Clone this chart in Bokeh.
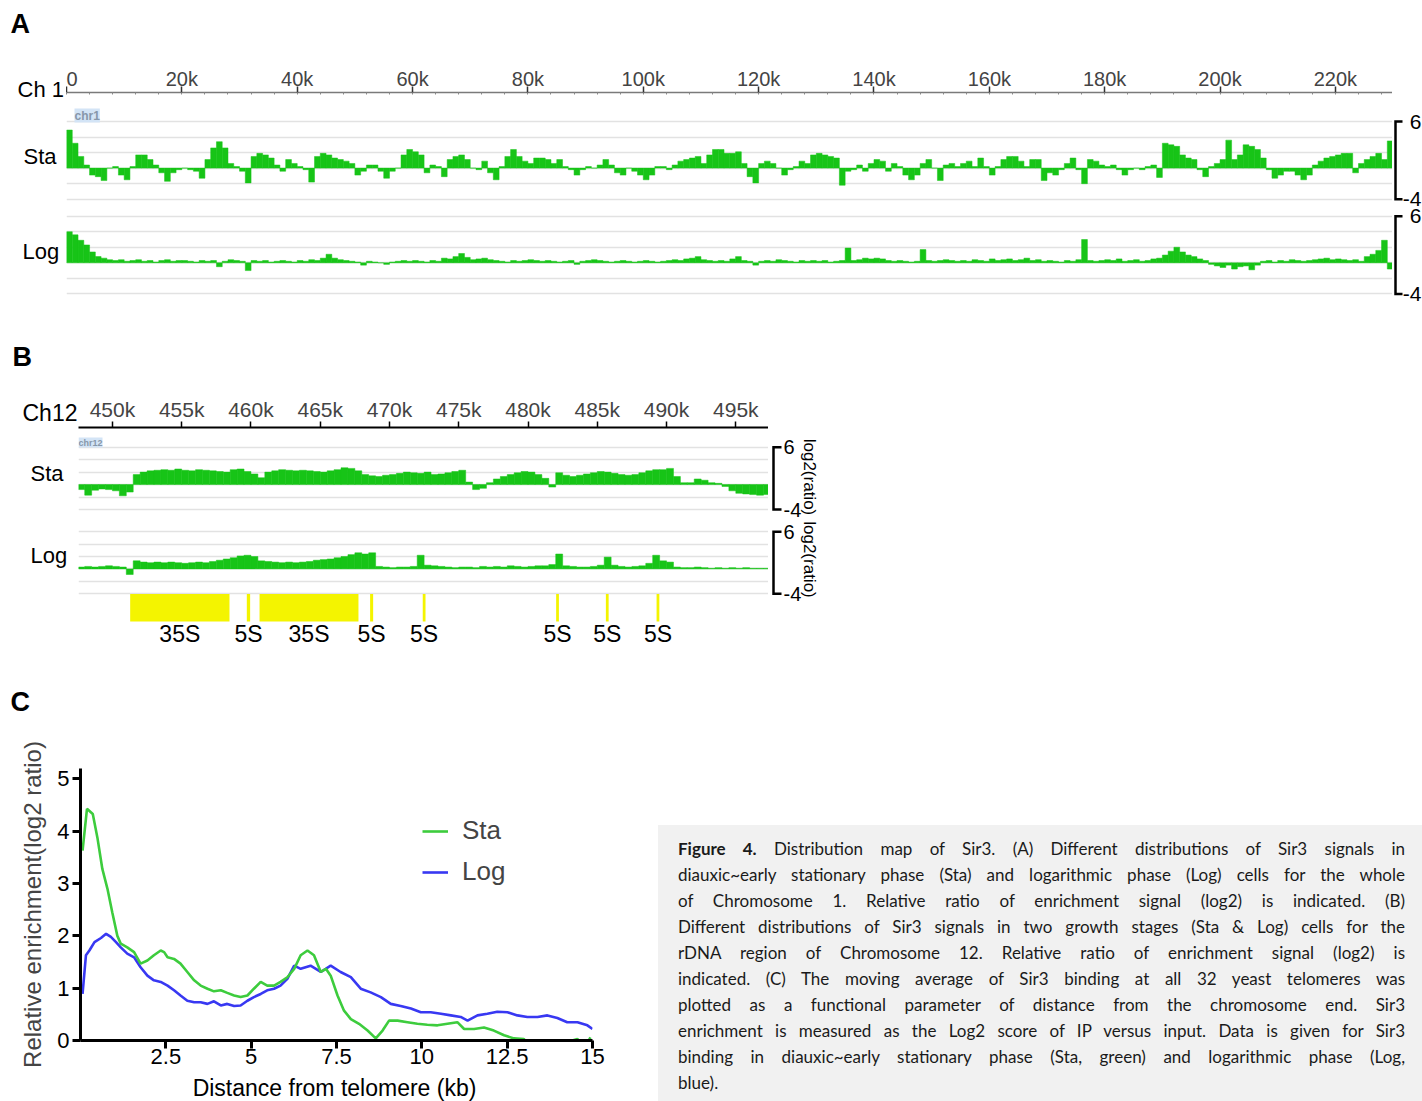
import math
import numpy as np
from bokeh.plotting import figure
from bokeh.models import (Range1d, LinearAxis, FixedTicker, Grid, Label, Legend, LegendItem,
                          Div, CustomJSTickFormatter)
from bokeh.layouts import column, row
from bokeh.embed import file_html
from bokeh.resources import INLINE
from bokeh.core.properties import value

# ---------------------------------------------------------------- data
# Panel A: chromosome 1, log2(ratio) in 1 kb bins starting at 0 kb
chr1_bin_kb = 1.0
chr1_sta = [
    4.9, 3.2, 1.5, 0.4, -0.9, -1.1, -1.6, 0.0, 0.2, -0.9,
    -1.5, 0.2, 1.7, 1.7, 1.1, 0.4, -0.6, -1.7, -0.6, -0.2,
    0.0, -0.2, -0.4, -1.3, 1.1, 2.6, 3.4, 2.6, 0.6, 0.2,
    -0.4, -1.9, 1.5, 1.9, 1.7, 1.3, 0.4, -0.4, 1.1, 0.6,
    0.2, -0.2, -1.8, 1.5, 1.9, 1.7, 1.3, 1.1, 0.9, 0.6,
    -0.9, -0.4, 0.4, 0.4, -0.4, -1.3, -0.4, 0.0, 1.7, 2.4,
    2.1, 1.7, -0.6, 0.4, 0.2, -1.1, 1.1, 1.5, 1.7, 1.1,
    0.0, -0.2, 0.9, -0.6, -1.5, 0.2, 1.5, 2.4, 1.5, 0.9,
    0.6, 1.3, 1.3, 1.1, 0.6, 1.1, 0.2, -0.2, -0.9, -0.2,
    0.2, 0.0, 0.4, 1.1, 0.4, -0.6, -0.9, 0.0, -0.4, -0.9,
    -1.5, -0.9, 0.2, 0.2, -0.2, 0.4, 0.9, 1.1, 1.3, 1.5,
    0.6, 1.7, 2.4, 2.4, 1.9, 1.9, 2.1, 0.6, -1.1, -1.9,
    0.6, 0.9, 0.6, 0.0, -0.9, -0.2, 0.2, 0.9, 0.6, 1.7,
    1.9, 1.7, 1.5, 1.3, -2.2, -0.4, -0.2, 0.4, -0.4, 0.6,
    1.1, 0.9, -0.4, 0.6, 0.2, -0.9, -1.5, -0.9, 0.6, 1.1,
    0.0, -1.6, 0.4, 0.6, 0.2, 0.6, 0.9, 0.2, 1.3, 0.2,
    -0.9, 0.2, 1.1, 1.5, 1.5, 0.9, 0.2, 1.1, 1.1, -1.6,
    -0.6, -0.9, -0.2, 0.6, 1.3, -0.2, -2.0, 1.1, 0.9, 0.4,
    0.2, 0.4, -0.2, -0.9, -0.2, 0.0, -0.2, 0.2, 0.4, -1.2,
    3.2, 3.0, 2.8, 1.7, 1.3, 1.1, -0.2, -1.1, 0.2, 0.6,
    1.1, 3.6, 1.1, 1.7, 3.0, 2.8, 2.4, 1.3, -0.2, -1.3,
    -0.9, -0.4, -0.4, -0.9, -1.5, -0.9, 0.4, 0.9, 1.3, 1.5,
    1.7, 1.9, 1.9, -0.6, 0.6, 1.1, 1.5, 1.9, 1.1, 3.5,
]
chr1_log = [
    4.0, 3.6, 2.9, 2.3, 1.4, 0.8, 0.6, 0.4, 0.3, 0.4,
    0.2, 0.3, 0.4, 0.2, 0.3, 0.1, 0.3, 0.4, 0.2, 0.3,
    0.3, 0.2, 0.1, 0.3, 0.2, 0.3, -0.5, 0.2, 0.4, 0.3,
    0.2, -1.0, 0.3, 0.2, 0.3, 0.1, 0.2, 0.3, 0.2, 0.1,
    0.3, 0.2, 0.4, 0.3, 0.6, 1.1, 0.6, 0.4, 0.3, 0.2,
    0.1, -0.3, 0.2, 0.1, 0.0, -0.2, 0.1, 0.2, 0.3, 0.2,
    0.3, 0.2, 0.1, 0.3, 0.2, 0.6, 0.5, 0.8, 1.2, 0.7,
    0.4, 0.5, 0.6, 0.4, 0.3, 0.2, 0.1, 0.3, 0.2, 0.3,
    0.4, 0.3, 0.2, 0.3, 0.2, 0.1, 0.2, 0.3, -0.2, 0.2,
    0.3, 0.4, 0.3, 0.2, 0.1, 0.2, 0.3, 0.2, 0.1, 0.2,
    0.3, 0.2, 0.1, 0.2, 0.3, 0.4, 0.3, 0.5, 0.6, 0.8,
    0.4, 0.3, 0.2, 0.3, 0.2, 0.5, 0.8, 0.3, 0.2, -0.3,
    0.2, 0.3, 0.2, 0.4, 0.3, 0.2, 0.1, 0.3, 0.2, 0.3,
    0.2, 0.3, 0.1, 0.2, 0.3, 1.9, 0.3, 0.4, 0.6, 0.5,
    0.6, 0.5, 0.3, 0.2, 0.3, 0.2, 0.1, 0.2, 1.7, 0.3,
    0.2, 0.3, 0.4, 0.3, 0.2, 0.3, 0.2, 0.4, 0.3, 0.2,
    0.5, 0.3, 0.4, 0.5, 0.3, 0.4, 0.6, 0.3, 0.4, 0.2,
    0.3, 0.2, 0.1, 0.3, 0.2, 0.4, 3.0, 0.3, 0.2, 0.3,
    0.4, 0.3, 0.5, 0.2, 0.3, 0.4, 0.2, 0.3, 0.5, 0.6,
    1.0, 1.5, 2.0, 1.4, 1.0, 0.8, 0.5, 0.3, -0.2, -0.4,
    -0.6, -0.3, -0.8, -0.5, -0.4, -0.9, -0.3, 0.2, 0.3, 0.1,
    0.3, 0.2, 0.4, 0.3, 0.2, 0.3, 0.4, 0.5, 0.6, 0.4,
    0.5, 0.4, 0.3, 0.4, 0.2, 0.8, 1.1, 1.6, 2.9, -0.8,
]
chr1_view_kb = [0, 229.9]
chr1_ticks_kb = [0, 20, 40, 60, 80, 100, 120, 140, 160, 180, 200, 220]
chr1_minor_kb = list(range(0, 231, 4))

# Panel B: chromosome 12 rDNA region, 0.5 kb bins starting at 447.5 kb
chr12_start_kb = 447.5
chr12_bin_kb = 0.5
chr12_sta = [
    -0.8, -1.7, -0.9, -0.7, -0.8, -1.0, -1.8, -1.2, 1.6, 2.0,
    2.2, 2.3, 2.4, 2.3, 2.5, 2.3, 2.2, 2.4, 2.3, 2.2,
    2.1, 2.0, 2.4, 2.5, 2.1, 1.7, 1.1, 2.0, 2.2, 2.4,
    2.3, 2.2, 2.3, 2.2, 2.1, 2.0, 2.2, 2.4, 2.7, 2.6,
    2.2, 1.6, 1.4, 1.3, 1.5, 1.6, 1.8, 2.0, 1.9, 1.8,
    2.0, 1.6, 1.7, 1.9, 2.1, 2.3, 0.4, -0.8, -0.6, 0.3,
    0.9, 1.3, 1.6, 1.9, 2.1, 2.0, 1.6, 1.0, -0.4, 1.9,
    1.5, 1.3, 1.5, 1.7, 1.9, 2.1, 2.0, 1.8, 1.6, 1.5,
    1.6, 1.9, 2.2, 2.4, 2.4, 2.6, 1.3, 0.3, 0.3, 0.9,
    0.7, 0.3, 0.2, -0.3, -1.0, -1.4, -1.5, -1.6, -1.7, -1.6,
]
chr12_log = [
    0.3, 0.4, 0.3, 0.4, 0.5, 0.4, 0.3, -0.9, 1.3, 1.1,
    1.0, 1.1, 1.0, 1.1, 1.0, 0.9, 1.0, 1.1, 1.0, 1.2,
    1.4, 1.6, 1.8, 2.1, 2.2, 2.0, 1.3, 1.2, 1.1, 1.0,
    1.1, 1.0, 1.1, 1.2, 1.4, 1.5, 1.6, 1.8, 2.0, 2.3,
    2.6, 2.4, 2.6, 0.4, 0.3, 0.2, 0.3, 0.3, 0.4, 2.2,
    0.6, 0.5, 0.4, 0.3, 0.2, 0.3, 0.3, 0.2, 0.4, 0.3,
    0.4, 0.3, 0.5, 0.4, 0.3, 0.4, 0.5, 0.5, 0.7, 2.4,
    0.5, 0.4, 0.3, 0.3, 0.4, 0.6, 1.9, 0.6, 0.4, 0.3,
    0.4, 0.5, 0.9, 2.2, 1.3, 1.1, 0.3, 0.2, 0.2, 0.3,
    0.2, 0.1, 0.2, 0.1, 0.2, 0.1, 0.2, 0.1, 0.1, 0.1,
]
chr12_view_kb = [447.55, 497.36]
chr12_ticks_kb = [450, 455, 460, 465, 470, 475, 480, 485, 490, 495]
rdna_names = ["35S", "5S", "35S", "5S", "5S", "5S", "5S", "5S"]
rdna_start_kb = [451.28, 459.70, 460.62, 468.60, 472.40, 482.03, 485.62, 489.28]
rdna_end_kb = [458.45, 459.94, 467.76, 468.82, 472.60, 482.23, 485.82, 489.48]

# Panel C: moving average near telomeres
tel_sta_kb = [0.06, 0.19, 0.36, 0.5, 0.64, 0.79, 0.93, 1.08, 1.18, 1.37, 1.57, 1.76, 1.96,
              2.15, 2.35, 2.45, 2.55, 2.74, 2.93, 3.13, 3.33, 3.52, 3.72, 3.91, 4.11, 4.3,
              4.5, 4.69, 4.89, 5.08, 5.28, 5.47, 5.67, 5.86, 6.06, 6.26, 6.45, 6.65, 6.84,
              7.04, 7.19, 7.33, 7.53, 7.72, 7.92, 8.16, 8.41, 8.65, 8.85, 9.04, 9.29, 9.58,
              9.87, 10.16, 10.46, 10.75, 11.04, 11.24, 11.53, 11.82, 12.11, 12.41, 12.7,
              12.99, 13.14, 13.39, 13.68, 13.97, 14.26, 14.56, 14.75, 14.94]
tel_sta = [3.63, 4.43, 4.33, 3.86, 3.28, 2.9, 2.45, 2.0, 1.85, 1.78, 1.69, 1.47, 1.53,
           1.63, 1.72, 1.69, 1.59, 1.56, 1.47, 1.31, 1.15, 1.05, 0.99, 0.94, 0.96, 0.91,
           0.86, 0.83, 0.86, 0.99, 1.12, 1.05, 1.05, 1.12, 1.21, 1.37, 1.63, 1.72, 1.63,
           1.31, 1.37, 1.24, 0.86, 0.57, 0.41, 0.32, 0.19, 0.04, 0.19, 0.38, 0.38, 0.35,
           0.32, 0.30, 0.29, 0.32, 0.35, 0.22, 0.22, 0.25, 0.19, 0.10, 0.04,
           0.03, -0.1, 0.0, -0.03, -0.06, -0.03, 0.03, -0.16, 0.06]
tel_log_kb = [0.06, 0.16, 0.26, 0.41, 0.60, 0.75, 0.89, 1.04, 1.18, 1.37, 1.57, 1.76, 1.96,
              2.15, 2.35, 2.55, 2.74, 2.93, 3.13, 3.33, 3.52, 3.72, 3.91, 4.11, 4.3, 4.5,
              4.69, 4.89, 5.08, 5.28, 5.47, 5.67, 5.86, 6.06, 6.26, 6.45, 6.74, 7.04, 7.33,
              7.62, 7.92, 8.21, 8.5, 8.8, 9.09, 9.38, 9.68, 9.97, 10.26, 10.56, 10.85, 11.14,
              11.34, 11.63, 11.92, 12.21, 12.51, 12.8, 13.09, 13.39, 13.68, 13.97, 14.26,
              14.56, 14.85, 15.0]
tel_log = [0.89, 1.63, 1.72, 1.88, 1.96, 2.04, 1.98, 1.88, 1.78, 1.66, 1.59, 1.40, 1.24,
           1.15, 1.12, 1.05, 0.96, 0.86, 0.76, 0.73, 0.73, 0.70, 0.75, 0.67, 0.70, 0.66,
           0.67, 0.76, 0.83, 0.89, 0.96, 0.99, 1.05, 1.18, 1.43, 1.37, 1.43, 1.31, 1.43,
           1.31, 1.21, 0.99, 0.92, 0.83, 0.70, 0.66, 0.61, 0.54, 0.54, 0.51, 0.48, 0.45,
           0.38, 0.48, 0.51, 0.55, 0.54, 0.48, 0.45, 0.45, 0.48, 0.43, 0.35,
           0.35, 0.29, 0.22]
tel_x_ticks = [2.5, 5, 7.5, 10, 12.5, 15]
tel_y_ticks = [0, 1, 2, 3, 4, 5]

track_grid = [-4, -2, 0, 2, 4, 6]
track_scale = [-4, 6]

caption_lines = [
    "<b>Figure 4.</b> Distribution map of Sir3. (A) Different distributions of Sir3 signals in",
    "diauxic~early stationary phase (Sta) and logarithmic phase (Log) cells for the whole",
    "of Chromosome 1. Relative ratio of enrichment signal (log2) is indicated. (B)",
    "Different distributions of Sir3 signals in two growth stages (Sta &amp; Log) cells for the",
    "rDNA region of Chromosome 12. Relative ratio of enrichment signal (log2) is",
    "indicated. (C) The moving average of Sir3 binding at all 32 yeast telomeres was",
    "plotted as a functional parameter of distance from the chromosome end. Sir3",
    "enrichment is measured as the Log2 score of IP versus input. Data is given for Sir3",
    "binding in diauxic~early stationary phase (Sta, green) and logarithmic phase (Log,",
    "blue).",
]

# ---------------------------------------------------------------- styles
GREEN = "#17c417"
C_GREEN = "#3dcc3d"
C_BLUE = "#3838f2"
YELLOW = "#f4f400"
GRID = "#e2e2e2"
SANS = "Liberation Sans"
kfmt = CustomJSTickFormatter(code="return tick == 0 ? '0' : tick + 'k';")


def base_fig(w, h, xr, yr, top=0, bottom=0, left=0, right=0):
    p = figure(width=w, height=h, x_range=xr, y_range=yr, output_backend="svg",
               toolbar_location=None, x_axis_location=None, y_axis_location=None,
               title=None, min_border_left=left, min_border_right=right,
               min_border_top=top, min_border_bottom=bottom, frame_align=False)
    p.outline_line_color = None
    p.xgrid.visible = False
    p.ygrid.visible = False
    return p


def label_fig(w, h):
    # pixel-space canvas for texts that sit outside the plotting frames
    return base_fig(w, h, Range1d(0, w), Range1d(h, 0))


def put_text(p, xs, ys, texts, size, font=SANS, align="left", baseline="middle",
             style="normal", angle=0.0, color="black", **kw):
    p.text(x=xs, y=ys, text=texts, text_font=value(font), text_font_size=value(f"{size}px"),
           text_align=align, text_baseline=baseline, text_font_style=style, angle=angle,
           text_color=color, **kw)


def band_range(frame_top, frame_h, anchor_px, ppu, anchor_val=6.0):
    # frame_top and anchor_px are both page pixels
    top = anchor_val + (anchor_px - frame_top) / ppu
    return Range1d(top - frame_h / ppu, top)


def add_grid(p, rn):
    p.add_layout(Grid(dimension=1, ticker=FixedTicker(ticks=track_grid), y_range_name=rn,
                      grid_line_color=GRID, grid_line_width=1.5))


def bars(p, start, step, vals, rn):
    xs = start + step * (np.arange(len(vals)) + 0.5)
    p.vbar(x=xs, width=step, top=vals, bottom=0, fill_color=GREEN,
           line_color=GREEN, line_width=0.5, y_range_name=rn)


def bracket(p, rn, bx, tick, tx, size, align):
    lo, hi = track_scale
    p.line(x=[bx + tick, bx, bx, bx + tick], y=[hi, hi, lo, lo], line_width=2.5,
           line_color="black", line_join="miter", y_range_name=rn)
    put_text(p, [tx, tx], [hi, lo], [str(hi), str(lo)], size, align=align, y_range_name=rn)


# ---------------------------------------------------------------- panel A
A_Y0, A_H, A_TOP = 0, 304, 92
a_frame_top = A_Y0 + A_TOP
a_rngs = {"sta": band_range(a_frame_top, A_H - A_TOP, 121.0, 7.77),
          "log": band_range(a_frame_top, A_H - A_TOP, 215.7, 7.77)}

la = label_fig(66, A_H)
put_text(la, [10], [23], ["A"], 27, style="bold")
put_text(la, [17], [89], ["Ch 1"], 22)
put_text(la, [23], [156], ["Sta"], 22)
put_text(la, [22], [251], ["Log"], 22)

ta = base_fig(1326, A_H, Range1d(*chr1_view_kb), a_rngs["sta"], top=A_TOP)
ta.extra_y_ranges = {"log": a_rngs["log"]}
add_grid(ta, "default")
add_grid(ta, "log")
axA = LinearAxis(ticker=FixedTicker(ticks=chr1_ticks_kb, minor_ticks=chr1_minor_kb),
                 formatter=kfmt, axis_line_color="#7a7a7a", axis_line_width=1.5,
                 major_tick_in=0, major_tick_out=6, major_tick_line_color="#333333",
                 major_tick_line_width=1.5, minor_tick_in=2, minor_tick_out=0,
                 minor_tick_line_color="#888888",
                 major_label_text_font=SANS, major_label_text_font_size="20px",
                 major_label_standoff=-3)
ta.add_layout(axA, "above")
bars(ta, 0, chr1_bin_kb, chr1_sta, "default")
bars(ta, 0, chr1_bin_kb, chr1_log, "log")
ta.add_layout(Label(x=0, y=6.77, x_offset=8, text="chr1", text_font=SANS,
                    text_font_size="12px", text_font_style="bold", text_color="#8797aa",
                    text_baseline="middle", background_fill_color="#d3e4f6"))

ra = base_fig(30, A_H, Range1d(0, 30), a_rngs["sta"], top=A_TOP)
ra.extra_y_ranges = {"log": a_rngs["log"]}
bracket(ra, "default", 3, 7, 29, 21, "right")
bracket(ra, "log", 3, 7, 29, 21, "right")

# ---------------------------------------------------------------- panel B
B_Y0, B_H, B_TOP = 304, 356, 123
b_frame_top = B_Y0 + B_TOP
b_rngs = {"sta": band_range(b_frame_top, B_H - B_TOP, 446.7, 6.23),
          "log": band_range(b_frame_top, B_H - B_TOP, 531.2, 6.2),
          "genes": band_range(b_frame_top, B_H - B_TOP, 621.0, 27.5, anchor_val=0.0)}

lb = label_fig(78, B_H)
put_text(lb, [12], [52], ["B"], 27, style="bold")
put_text(lb, [22], [108], ["Ch12"], 23)
put_text(lb, [30], [169], ["Sta"], 22)
put_text(lb, [30], [251], ["Log"], 22)

tb = base_fig(690, B_H, Range1d(*chr12_view_kb), b_rngs["sta"], top=B_TOP)
tb.extra_y_ranges = {"log": b_rngs["log"], "genes": b_rngs["genes"]}
add_grid(tb, "default")
add_grid(tb, "log")
axB = LinearAxis(ticker=FixedTicker(ticks=chr12_ticks_kb), formatter=kfmt,
                 axis_line_color="black", axis_line_width=2,
                 major_tick_in=0, major_tick_out=6, major_tick_line_width=1.5,
                 minor_tick_in=0, minor_tick_out=0,
                 major_label_text_font=SANS, major_label_text_font_size="21px",
                 major_label_standoff=1)
tb.add_layout(axB, "above")
bars(tb, chr12_start_kb, chr12_bin_kb, chr12_sta, "default")
bars(tb, chr12_start_kb, chr12_bin_kb, chr12_log, "log")
tb.quad(left=rdna_start_kb, right=rdna_end_kb, bottom=0, top=1, y_range_name="genes",
        fill_color=YELLOW, line_color=None)
gene_mid = [(s + e) / 2 for s, e in zip(rdna_start_kb, rdna_end_kb)]
put_text(tb, gene_mid, [-0.44] * len(gene_mid), rdna_names, 23, align="center",
         y_range_name="genes")
tb.add_layout(Label(x=chr12_view_kb[0], y=6.75, text="chr12", text_font=SANS,
                    text_font_size="9px", text_font_style="bold", text_color="#8797aa",
                    text_baseline="middle", background_fill_color="#d3e4f6"))

rb = base_fig(62, B_H, Range1d(0, 62), b_rngs["sta"], top=B_TOP)
rb.extra_y_ranges = {"log": b_rngs["log"]}
bracket(rb, "default", 5, 8, 15, 20, "left")
bracket(rb, "log", 5, 8, 15, 20, "left")
put_text(rb, [41], [1.22], ["log2(ratio)"], 17, align="center", angle=-math.pi / 2)
put_text(rb, [41], [1.52], ["log2(ratio)"], 17, align="center", angle=-math.pi / 2,
         y_range_name="log")

# ---------------------------------------------------------------- panel C
lct = label_fig(658, 75)
put_text(lct, [10], [41], ["C"], 27, style="bold")

pc = figure(width=658, height=339, x_range=Range1d(0, 15), y_range=Range1d(0, 5.2),
            output_backend="svg", toolbar_location=None, title=None, frame_align=False,
            min_border_left=80, min_border_right=66, min_border_top=33, min_border_bottom=34)
pc.outline_line_color = None
pc.grid.visible = False
for ax in (pc.xaxis[0], pc.yaxis[0]):
    ax.axis_line_width = 3
    ax.axis_line_color = "black"
    ax.major_tick_line_width = 3
    ax.major_tick_in = 0
    ax.major_tick_out = 8
    ax.minor_tick_out = 0
    ax.minor_tick_in = 0
    ax.major_label_text_font = SANS
    ax.major_label_text_font_size = "22px"
    ax.major_label_text_color = "black"
    ax.major_label_standoff = 0
pc.yaxis[0].major_label_standoff = 3
pc.xaxis[0].ticker = FixedTicker(ticks=tel_x_ticks)
pc.xaxis[0].formatter = CustomJSTickFormatter(code="return tick.toString();")
pc.yaxis[0].ticker = FixedTicker(ticks=tel_y_ticks)
pc.yaxis[0].axis_label = "Relative enrichment(log2 ratio)"
pc.yaxis[0].axis_label_text_font = SANS
pc.yaxis[0].axis_label_text_font_size = "24px"
pc.yaxis[0].axis_label_text_font_style = "normal"
pc.yaxis[0].axis_label_standoff = 8

r_log = pc.line(tel_log_kb, tel_log, color=C_BLUE, line_width=2.6)
r_sta = pc.line(tel_sta_kb, tel_sta, color=C_GREEN, line_width=2.6)
leg = Legend(items=[LegendItem(label="Sta", renderers=[r_sta]),
                    LegendItem(label="Log", renderers=[r_log])],
             location=(342, 153), glyph_width=26, glyph_height=30, label_height=30,
             spacing=10, padding=0, margin=0, label_standoff=14,
             label_text_font=SANS, label_text_font_size="26px",
             border_line_color=None, background_fill_alpha=0)
pc.add_layout(leg)

lcb = label_fig(658, 27)
put_text(lcb, [334], [13.5], ["Distance from telomere (kb)"], 23, align="center")

# ---------------------------------------------------------------- caption
rows_html = []
for i, ln in enumerate(caption_lines):
    last = "left" if i == len(caption_lines) - 1 else "justify"
    rows_html.append(
        f'<div style="text-align:justify;text-align-last:{last};height:26px;'
        f'line-height:26px;">{ln}</div>')
cap_html = ('<div style="margin-top:160px;margin-left:-5px;height:276px;width:764px;'
            'background:#f1f1f1;box-sizing:border-box;padding:11px 17px 0 20px;'
            'font-family:Lato;font-size:17px;color:#1a1a1a;overflow:hidden;">'
            + "".join(rows_html) + "</div>")
cap = Div(text=cap_html, width=764, height=441)

layout = column(row(la, ta, ra), row(lb, tb, rb), row(column(lct, pc, lcb), cap))
open("out.html", "w").write(file_html(layout, INLINE, title="Figure 4"))
